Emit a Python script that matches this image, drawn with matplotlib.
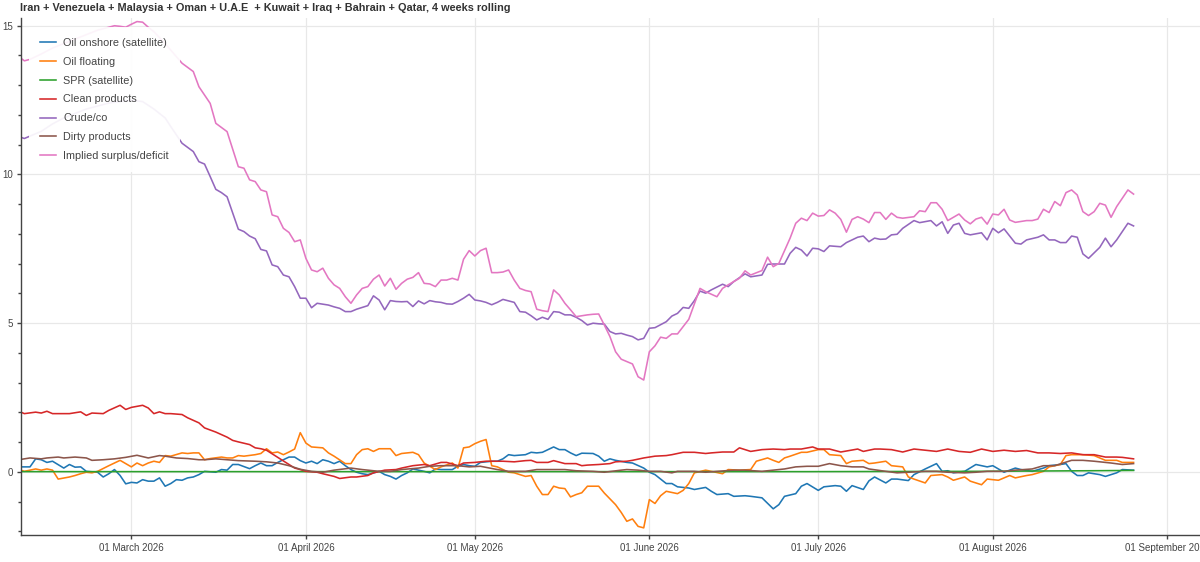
import matplotlib
matplotlib.use("Agg")
import matplotlib.pyplot as plt
import matplotlib.dates as mdates
import numpy as np
from datetime import datetime, timedelta

plt.rcParams["font.family"] = ["Liberation Sans", "DejaVu Sans"]

# day offsets are counted from 01 March 2026
BASE = datetime(2026, 3, 1)

title = ("Iran + Venezuela + Malaysia + Oman + U.A.E  + Kuwait + Iraq + "
         "Bahrain + Qatar, 4 weeks rolling")

onshore_days = [-20, -18, -17, -16, -15, -14, -12, -11, -10, -9, -8, -6, -5, -4, -3, -2, -1, 0, 1, 2,
                3, 4, 5, 6, 7, 8, 9, 10, 11, 12, 13, 15, 16, 17, 18, 19, 21, 22, 23, 24,
                25, 26, 28, 29, 30, 31, 32, 33, 34, 35, 36, 37, 38, 39, 40, 41, 42, 44, 45, 46,
                47, 48, 49, 50, 52, 53, 54, 55, 57, 58, 59, 60, 61, 62, 64, 65, 66, 67, 68, 70,
                71, 72, 73, 75, 76, 77, 78, 79, 80, 82, 83, 84, 85, 86, 88, 89, 91, 92, 93, 95,
                96, 97, 99, 100, 102, 103, 104, 106, 107, 109, 110, 112, 114, 115, 116, 118, 119, 120, 122, 123,
                125, 126, 127, 128, 130, 131, 132, 134, 135, 136, 138, 139, 141, 143, 144, 145, 146, 148, 150, 152,
                153, 155, 157, 158, 160, 162, 163, 165, 166, 167, 168, 169, 170, 172, 173, 175, 176, 178]
onshore_vals = [0.17, 0.17, 0.44, 0.41, 0.32, 0.36, 0.13, 0.25, 0.16, 0.17, 0.02, -0.01, -0.17, -0.06, 0.08, -0.12, -0.40, -0.35, -0.37, -0.26,
                -0.31, -0.31, -0.20, -0.48, -0.39, -0.26, -0.28, -0.20, -0.17, -0.09, 0.02, -0.01, 0.08, 0.06, 0.25, 0.25, 0.11, 0.21, 0.30, 0.21,
                0.21, 0.32, 0.50, 0.50, 0.38, 0.30, 0.36, 0.28, 0.41, 0.36, 0.28, 0.36, 0.21, 0.08, -0.01, -0.06, -0.09, 0.02, -0.09, -0.15,
                -0.24, -0.12, -0.03, 0.10, 0.02, -0.03, 0.10, 0.08, 0.08, 0.19, 0.25, 0.21, 0.19, 0.32, 0.36, 0.36, 0.44, 0.58, 0.55, 0.58,
                0.66, 0.64, 0.66, 0.84, 0.75, 0.75, 0.64, 0.55, 0.63, 0.62, 0.53, 0.36, 0.44, 0.39, 0.32, 0.30, 0.13, -0.01, -0.09, -0.39,
                -0.39, -0.50, -0.54, -0.59, -0.52, -0.65, -0.76, -0.73, -0.82, -0.80, -0.82, -0.87, -1.24, -1.10, -0.82, -0.73, -0.48, -0.39, -0.62, -0.50,
                -0.46, -0.48, -0.65, -0.46, -0.59, -0.30, -0.17, -0.37, -0.24, -0.24, -0.29, -0.09, 0.10, 0.28, 0.02, 0.04, -0.03, 0.02, 0.25, 0.17,
                0.21, -0.01, 0.13, 0.08, 0.02, 0.13, 0.21, 0.25, 0.28, 0.02, -0.12, -0.12, -0.03, -0.09, -0.15, -0.03, 0.08, 0.06]

floating_days = [-20, -19, -17, -16, -15, -14, -13, -11, -10, -9, -8, -7, -6, -4, -3, -2, -1, 0, 1, 2,
                 3, 4, 5, 6, 7, 9, 10, 11, 12, 13, 14, 16, 17, 18, 19, 20, 22, 23, 24, 25,
                 26, 27, 28, 29, 30, 31, 32, 34, 35, 36, 38, 39, 40, 41, 42, 43, 44, 46, 47, 48,
                 50, 51, 52, 53, 54, 55, 57, 58, 59, 60, 61, 62, 63, 64, 65, 66, 67, 68, 70, 71,
                 72, 73, 74, 75, 76, 77, 78, 79, 80, 81, 83, 84, 86, 87, 88, 89, 90, 91, 92, 93,
                 94, 95, 97, 98, 99, 100, 102, 103, 105, 106, 108, 110, 111, 113, 114, 115, 116, 117, 119, 120,
                 122, 123, 124, 126, 127, 128, 130, 131, 132, 134, 135, 137, 138, 139, 141, 142, 144, 145, 146, 148,
                 149, 151, 152, 154, 156, 157, 159, 160, 162, 163, 165, 166, 167, 169, 171, 172, 173, 175, 176, 178]
floating_vals = [0.08, 0.02, 0.10, 0.06, 0.10, 0.06, -0.24, -0.17, -0.12, -0.06, -0.01, -0.03, 0.02, 0.21, 0.30, 0.39, 0.28, 0.17, 0.30, 0.21,
                 0.30, 0.36, 0.32, 0.55, 0.53, 0.64, 0.62, 0.64, 0.64, 0.41, 0.45, 0.50, 0.47, 0.47, 0.55, 0.53, 0.58, 0.62, 0.78, 0.64,
                 0.67, 0.58, 0.67, 0.77, 1.32, 0.97, 0.84, 0.81, 0.64, 0.53, 0.28, 0.28, 0.58, 0.75, 0.78, 0.69, 0.78, 0.78, 0.55, 0.62,
                 0.66, 0.58, 0.30, 0.19, 0.08, 0.17, 0.30, 0.13, 0.81, 0.84, 0.95, 1.03, 1.09, 0.21, 0.17, 0.08, -0.01, -0.03, -0.15, -0.12,
                 -0.48, -0.76, -0.76, -0.48, -0.54, -0.56, -0.84, -0.76, -0.70, -0.48, -0.48, -0.71, -1.10, -1.36, -1.66, -1.58, -1.83, -1.88, -0.93, -1.06,
                 -0.80, -0.65, -0.73, -0.62, -0.39, -0.03, 0.06, 0.02, -0.06, 0.08, 0.06, 0.08, 0.36, 0.47, 0.39, 0.32, 0.47, 0.53, 0.66, 0.66,
                 0.75, 0.75, 0.58, 0.55, 0.28, 0.36, 0.39, 0.28, 0.30, 0.36, 0.21, 0.17, -0.17, -0.24, -0.37, -0.12, -0.09, -0.17, -0.28, -0.17,
                 -0.31, -0.43, -0.24, -0.28, -0.12, -0.20, -0.12, -0.09, 0.02, 0.17, 0.25, 0.55, 0.58, 0.58, 0.55, 0.47, 0.39, 0.39, 0.32, 0.32]

spr_days = [-20, 0, 30, 60, 90, 120, 150, 170, 178]
spr_vals = [0.01, 0.01, 0.01, 0.01, 0.01, 0.01, 0.02, 0.04, 0.05]

clean_days = [-20, -19, -17, -16, -15, -14, -12, -11, -9, -8, -7, -5, -4, -2, -1, 0, 2, 3, 4, 5,
              6, 7, 9, 10, 12, 13, 15, 17, 18, 19, 21, 22, 23, 24, 26, 28, 29, 30, 31, 33,
              34, 36, 37, 39, 40, 42, 43, 45, 47, 48, 50, 52, 53, 55, 56, 58, 59, 61, 63, 64,
              66, 68, 70, 71, 72, 74, 75, 77, 79, 80, 81, 83, 85, 86, 88, 89, 91, 93, 95, 96,
              98, 100, 102, 103, 105, 107, 108, 110, 112, 114, 116, 117, 119, 121, 122, 124, 126, 129, 130, 132,
              133, 135, 137, 139, 141, 143, 145, 147, 149, 151, 153, 155, 157, 159, 161, 163, 165, 167, 169, 171,
              173, 175, 176, 178]
clean_vals = [2.04, 1.96, 2.01, 1.98, 2.04, 1.96, 1.96, 1.96, 2.02, 1.90, 1.98, 1.96, 2.07, 2.24, 2.10, 2.17, 2.24, 2.15, 1.96, 2.02,
              1.96, 1.96, 1.93, 1.82, 1.65, 1.48, 1.34, 1.17, 1.06, 1.01, 0.92, 0.81, 0.78, 0.73, 0.49, 0.25, 0.13, 0.08, 0.02, -0.01,
              -0.06, -0.15, -0.22, -0.17, -0.17, -0.12, -0.03, 0.06, 0.08, 0.13, 0.21, 0.25, 0.21, 0.32, 0.32, 0.21, 0.30, 0.32, 0.36, 0.36,
              0.36, 0.34, 0.38, 0.39, 0.32, 0.32, 0.38, 0.28, 0.28, 0.21, 0.23, 0.25, 0.28, 0.34, 0.36, 0.39, 0.47, 0.53, 0.55, 0.58,
              0.66, 0.66, 0.62, 0.64, 0.67, 0.67, 0.81, 0.69, 0.75, 0.77, 0.75, 0.77, 0.77, 0.84, 0.77, 0.77, 0.67, 0.77, 0.69, 0.77,
              0.77, 0.75, 0.67, 0.77, 0.73, 0.69, 0.77, 0.69, 0.66, 0.77, 0.69, 0.73, 0.69, 0.72, 0.64, 0.64, 0.62, 0.64, 0.58, 0.58,
              0.50, 0.50, 0.49, 0.44]

crude_days = [-20, -19, -18, -16, -14, -12, -10, -8, -6, -4, -2, 0, 2, 4, 6, 7, 9, 11, 12, 13,
              14, 15, 16, 17, 19, 20, 21, 22, 23, 24, 25, 26, 27, 28, 29, 30, 31, 32, 33, 34,
              35, 36, 37, 38, 39, 40, 41, 42, 43, 44, 45, 46, 47, 48, 49, 50, 51, 52, 53, 54,
              55, 56, 57, 58, 59, 60, 61, 62, 63, 64, 65, 66, 67, 68, 69, 70, 71, 72, 73, 74,
              75, 76, 77, 78, 79, 80, 81, 82, 83, 84, 85, 86, 87, 88, 89, 90, 91, 92, 93, 95,
              96, 97, 98, 99, 100, 101, 102, 103, 105, 106, 107, 109, 110, 112, 113, 114, 116, 117, 118, 119,
              120, 121, 122, 123, 124, 126, 127, 129, 130, 131, 132, 133, 134, 135, 136, 137, 139, 140, 142, 143,
              144, 145, 146, 147, 148, 149, 151, 152, 153, 154, 155, 156, 157, 158, 159, 161, 162, 163, 164, 165,
              166, 167, 168, 169, 170, 172, 173, 174, 175, 176, 177, 178]
crude_vals = [11.27, 11.21, 11.29, 11.45, 11.70, 11.90, 12.05, 12.20, 12.30, 12.40, 12.45, 12.50, 12.45, 12.20, 11.90, 11.61, 11.05, 10.77, 10.43, 10.35,
              9.93, 9.50, 9.39, 9.25, 8.16, 8.08, 7.93, 7.84, 7.48, 7.43, 6.96, 6.90, 6.62, 6.56, 6.23, 5.84, 5.84, 5.52, 5.67, 5.64,
              5.61, 5.55, 5.50, 5.39, 5.39, 5.47, 5.53, 5.59, 5.92, 5.78, 5.45, 5.76, 5.73, 5.72, 5.73, 5.56, 5.75, 5.65, 5.76, 5.72,
              5.70, 5.65, 5.64, 5.73, 5.84, 5.97, 5.78, 5.75, 5.70, 5.62, 5.70, 5.80, 5.75, 5.70, 5.39, 5.37, 5.25, 5.11, 5.20, 5.13,
              5.39, 5.37, 5.28, 5.28, 5.20, 5.09, 4.94, 5.00, 4.98, 4.97, 4.72, 4.64, 4.66, 4.60, 4.55, 4.44, 4.49, 4.83, 4.85, 5.05,
              5.24, 5.33, 5.53, 5.50, 5.76, 6.08, 6.01, 6.12, 6.31, 6.23, 6.40, 6.66, 6.56, 6.62, 6.98, 6.99, 6.99, 7.35, 7.55, 7.46,
              7.26, 7.52, 7.50, 7.41, 7.60, 7.57, 7.71, 7.89, 7.93, 7.74, 7.86, 7.82, 7.83, 7.97, 7.99, 8.19, 8.45, 8.38, 8.45, 8.27,
              8.41, 8.02, 8.30, 8.36, 8.02, 7.97, 8.04, 7.80, 8.19, 8.04, 8.17, 7.93, 7.69, 7.66, 7.80, 7.89, 7.97, 7.80, 7.80, 7.71,
              7.71, 7.93, 7.89, 7.33, 7.18, 7.55, 7.86, 7.57, 7.80, 8.08, 8.36, 8.27]

dirty_days = [-20, -18, -16, -15, -13, -12, -10, -8, -7, -5, -3, -1, 1, 3, 5, 6, 8, 10, 12, 13,
              15, 17, 19, 22, 24, 26, 28, 30, 32, 34, 36, 39, 41, 44, 46, 48, 51, 53, 55, 58,
              60, 62, 65, 67, 70, 72, 74, 77, 79, 82, 84, 87, 88, 90, 92, 94, 96, 97, 100, 102,
              104, 107, 109, 112, 114, 116, 118, 120, 122, 124, 126, 128, 130, 131, 134, 136, 138, 141, 143, 145,
              148, 150, 152, 155, 157, 160, 162, 164, 167, 169, 171, 174, 176, 178]
dirty_vals = [0.41, 0.47, 0.44, 0.47, 0.50, 0.47, 0.50, 0.47, 0.39, 0.41, 0.44, 0.49, 0.56, 0.47, 0.55, 0.53, 0.47, 0.45, 0.41, 0.41,
              0.44, 0.41, 0.38, 0.36, 0.34, 0.30, 0.21, 0.09, 0.02, -0.01, 0.06, 0.13, 0.08, 0.02, 0.02, 0.08, 0.13, 0.19, 0.21, 0.21,
              0.17, 0.19, 0.08, 0.02, 0.02, 0.08, 0.08, 0.08, 0.04, 0.02, -0.01, 0.06, 0.08, 0.06, 0.02, 0.02, -0.03, 0.02, 0.02, -0.01,
              0.02, 0.06, 0.06, 0.02, 0.06, 0.10, 0.17, 0.19, 0.19, 0.28, 0.21, 0.17, 0.17, 0.10, 0.02, -0.03, -0.01, 0.02, 0.02, -0.01,
              -0.03, -0.01, 0.02, 0.02, 0.06, 0.10, 0.21, 0.21, 0.39, 0.39, 0.36, 0.30, 0.25, 0.28]

implied_days = [-20, -19, -18, -16, -14, -12, -10, -8, -6, -4, -3, -2, -1, 0, 1, 2, 3, 4, 5, 6,
                7, 9, 11, 12, 14, 15, 17, 19, 20, 21, 22, 23, 24, 25, 26, 27, 28, 29, 30, 31,
                32, 33, 34, 35, 36, 37, 38, 39, 40, 41, 42, 43, 44, 45, 46, 47, 48, 49, 50, 51,
                52, 53, 54, 55, 56, 57, 58, 59, 60, 61, 62, 63, 64, 65, 66, 67, 68, 69, 70, 71,
                72, 73, 74, 75, 76, 77, 78, 79, 80, 81, 82, 83, 84, 85, 86, 87, 89, 90, 91, 92,
                93, 94, 95, 96, 97, 99, 100, 101, 102, 104, 105, 106, 108, 109, 110, 112, 113, 114, 115, 117,
                118, 119, 120, 121, 122, 123, 124, 125, 126, 127, 128, 129, 130, 131, 132, 133, 134, 135, 136, 137,
                139, 140, 141, 142, 143, 144, 145, 146, 147, 148, 149, 150, 151, 152, 153, 154, 155, 156, 157, 159,
                160, 161, 162, 163, 164, 165, 166, 167, 168, 169, 170, 171, 172, 173, 174, 175, 176, 177, 178]
implied_vals = [13.96, 13.82, 13.87, 14.05, 14.25, 14.40, 14.55, 14.70, 14.85, 14.95, 15.00, 14.98, 14.95, 15.05, 15.14, 15.12, 14.95, 14.80, 14.60, 14.40,
                14.18, 13.74, 13.46, 12.95, 12.39, 11.72, 11.44, 10.26, 10.21, 9.82, 9.76, 9.48, 9.42, 8.64, 8.58, 8.19, 8.05, 7.74, 7.80, 7.18,
                6.79, 6.73, 6.85, 6.51, 6.29, 6.17, 5.89, 5.67, 5.95, 6.17, 6.23, 6.48, 6.62, 6.25, 6.51, 6.14, 6.34, 6.48, 6.54, 6.70,
                6.34, 6.32, 6.23, 6.45, 6.45, 6.51, 6.45, 7.15, 7.44, 7.26, 7.44, 7.52, 6.70, 6.70, 6.72, 6.79, 6.45, 6.17, 6.10, 6.06,
                5.47, 5.42, 5.39, 6.12, 5.95, 5.67, 5.45, 5.22, 5.25, 5.28, 5.30, 5.31, 4.94, 4.55, 4.04, 3.79, 3.63, 3.20, 3.09, 4.04,
                4.24, 4.53, 4.49, 4.64, 4.64, 5.13, 5.65, 6.17, 6.06, 5.89, 6.17, 6.29, 6.51, 6.76, 6.62, 6.77, 7.22, 6.90, 7.01, 7.86,
                8.36, 8.53, 8.45, 8.70, 8.60, 8.62, 8.81, 8.70, 8.49, 8.06, 8.49, 8.58, 8.50, 8.38, 8.72, 8.72, 8.49, 8.70, 8.56, 8.53,
                8.58, 8.78, 8.75, 9.05, 9.05, 8.83, 8.45, 8.56, 8.67, 8.47, 8.34, 8.50, 8.56, 8.33, 8.67, 8.64, 8.83, 8.47, 8.39, 8.45,
                8.45, 8.50, 8.83, 8.72, 9.09, 8.95, 9.39, 9.48, 9.31, 8.75, 8.62, 8.75, 9.03, 8.97, 8.56, 8.92, 9.20, 9.48, 9.34]

series = [
    ("Oil onshore (satellite)", onshore_days, onshore_vals, "#1f77b4"),
    ("Oil floating", floating_days, floating_vals, "#ff7f0e"),
    ("SPR (satellite)", spr_days, spr_vals, "#2ca02c"),
    ("Clean products", clean_days, clean_vals, "#d62728"),
    ("Crude/co", crude_days, crude_vals, "#9467bd"),
    ("Dirty products", dirty_days, dirty_vals, "#8c564b"),
    ("Implied surplus/deficit", implied_days, implied_vals, "#e377c2"),
]


def to_dates(days):
    return [BASE + timedelta(days=d) for d in days]


fig = plt.figure(figsize=(12, 5.62), dpi=100)
ax = fig.add_axes([21 / 1200, 27 / 562, 1 - 21 / 1200, (535 - 18) / 562])

for name, days, vals, color in series:
    ax.plot(to_dates(days), vals, color=color, lw=1.15, label=name)

ax.set_xlim(BASE - timedelta(days=19.6), BASE + timedelta(days=189.8))
ax.set_ylim(-2.12, 15.26)

ax.xaxis.set_major_locator(mdates.MonthLocator())
ax.xaxis.set_major_formatter(mdates.DateFormatter("%d %B %Y"))
ax.set_yticks([0, 5, 10, 15])
ax.set_yticks(np.arange(-2, 16), minor=True)

ax.grid(True, which="major", color="#e8e8e8", lw=0.9)
ax.set_axisbelow(True)
for side in ("top", "right"):
    ax.spines[side].set_visible(False)
for side in ("left", "bottom"):
    ax.spines[side].set_color("#444444")
    ax.spines[side].set_linewidth(1.0)

ax.tick_params(axis="both", which="major", length=3, width=1, color="#444444",
               labelsize=7, labelcolor="#444444", pad=3)
ax.tick_params(axis="y", which="minor", length=2, width=1, color="#444444")

leg = ax.legend(loc="upper left", bbox_to_anchor=(29 / 1200, 1 - 27 / 562),
                bbox_transform=fig.transFigure, borderaxespad=0, fontsize=7.8,
                frameon=True, fancybox=False, framealpha=0.92, edgecolor="none",
                borderpad=1.0, labelspacing=0.82, handlelength=1.5,
                handletextpad=0.65)
for t in leg.get_texts():
    t.set_color("#444444")

fig.text(20 / 1200, 1 - 8 / 562, title, ha="left", va="center",
         fontsize=7.8, fontweight="bold", color="#333333")

fig.savefig("out.png", dpi=100)
